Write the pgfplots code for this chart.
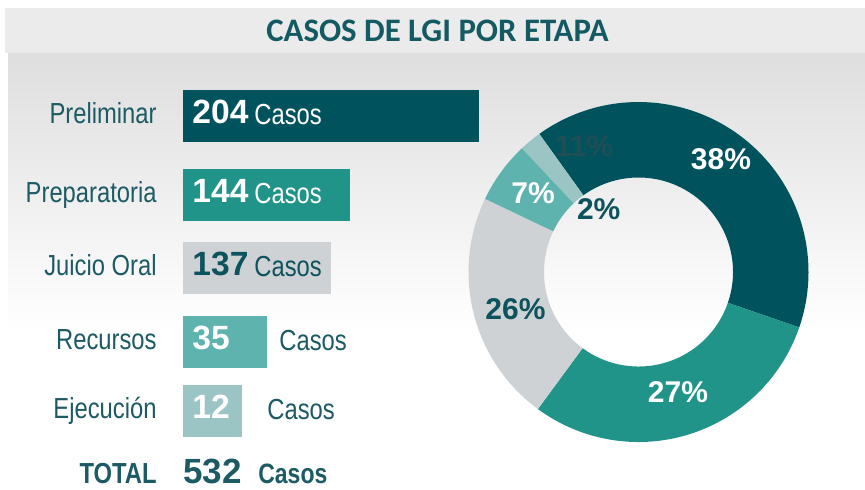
\documentclass[border=0pt]{standalone}
\usepackage{fontspec}
\setmainfont{Liberation Sans}
\newfontfamily\estrecha[FakeStretch=0.82]{Liberation Sans}
\newfontfamily\titulo{Carlito}
\usepackage{pgfplots}
\pgfplotsset{compat=1.18}

\definecolor{cPre}{HTML}{00535D}
\definecolor{cPrep}{HTML}{21948A}
\definecolor{cJui}{HTML}{CED2D5}
\definecolor{cRec}{HTML}{5EB3AE}
\definecolor{cEje}{HTML}{9BC5C4}
\definecolor{oscuro}{HTML}{0D535D}
\definecolor{etiq}{HTML}{1C5A64}
\definecolor{tituloc}{HTML}{145A63}
\definecolor{banda}{HTML}{EBEBEB}
\definecolor{fondo}{HTML}{DEDEDE}
\definecolor{fantasma}{HTML}{1F4E56}

% sector del anillo: porcentaje acumulado inicial, final, color
% (empieza en 125.7 grados y avanza en sentido horario)
\newcommand{\anillo}[3]{%
  \addplot[fill=#3, draw=none, domain=0:201, samples=202, variable=\t]
  ({ifthenelse(\t<100.5, 170*cos(125.7-3.6*(#1+(#2-#1)*\t/100)), 94.5*cos(125.7-3.6*(#2+(#1-#2)*(\t-101)/100)))},
   {ifthenelse(\t<100.5, 170*sin(125.7-3.6*(#1+(#2-#1)*\t/100)), 94.5*sin(125.7-3.6*(#2+(#1-#2)*(\t-101)/100)))});
}

\begin{document}
\begin{tikzpicture}
\useasboundingbox (0,0) rectangle (432.5pt,-244.5pt);
\fill[white] (0,0) rectangle (432.5pt,-244.5pt);
\shade[top color=fondo, bottom color=white] (4pt,-26.5pt) rectangle (432.5pt,-165pt);
\fill[banda] (2.5pt,-4pt) rectangle (432.5pt,-26.5pt);
\node[font=\titulo\bfseries\fontsize{16.4pt}{16.4pt}\selectfont, text=tituloc, inner sep=0pt]
  at (218.75pt,-15.5pt) {CASOS DE LGI POR ETAPA};

% barras por etapa
\begin{axis}[
  at={(91.5pt,-40pt)}, anchor=north west,
  x=0.5pt, y=0.5pt, y dir=reverse,
  xmin=0, xmax=300, ymin=80, ymax=489,
  axis line style={draw=none}, major tick length=0pt,
  xtick=\empty,
  ytick={116.5,195.5,268.5,342.5,411.5,476.5},
  yticklabels={Preliminar,Preparatoria,Juicio Oral,Recursos,Ejecución,\bfseries TOTAL},
  yticklabel style={font=\estrecha\fontsize{14.5pt}{14.5pt}\selectfont, text=etiq,
    anchor=east, inner sep=0pt, text height=0.72em, text depth=0pt, xshift=-13pt},
  clip=false,
]
\addplot[xbar, bar shift=0pt, bar width=25.85pt, fill=cPre, draw=none] coordinates {(296,115.8)};
\addplot[xbar, bar shift=0pt, bar width=25.85pt, fill=cPrep, draw=none] coordinates {(167,194.8)};
\addplot[xbar, bar shift=0pt, bar width=25.85pt, fill=cJui, draw=none] coordinates {(148,267.8)};
\addplot[xbar, bar shift=0pt, bar width=25.85pt, fill=cRec, draw=none] coordinates {(84,341.8)};
\addplot[xbar, bar shift=0pt, bar width=25.85pt, fill=cEje, draw=none] coordinates {(59,410.8)};
% cantidades
\addplot[draw=none, nodes near coords, point meta=explicit symbolic,
  every node near coord/.append style={anchor=west, inner sep=0pt, text height=0.72em, text depth=0pt,
    font=\bfseries\fontsize{16.8pt}{16.8pt}\selectfont, text=white}]
  coordinates {(9,116.3)[204] (9,195.3)[144] (9,342.3)[35] (9,411.3)[12]};
\addplot[draw=none, nodes near coords, point meta=explicit symbolic,
  every node near coord/.append style={anchor=west, inner sep=0pt, text height=0.72em, text depth=0pt,
    font=\bfseries\fontsize{16.8pt}{16.8pt}\selectfont, text=oscuro}]
  coordinates {(9,268.3)[137]};
\addplot[draw=none, nodes near coords={Casos},
  every node near coord/.append style={anchor=west, inner sep=0pt, text height=0.72em, text depth=0pt,
    font=\estrecha\fontsize{14.5pt}{14.5pt}\selectfont, text=white}]
  coordinates {(71,116.8) (71,195.8)};
\addplot[draw=none, nodes near coords={Casos},
  every node near coord/.append style={anchor=west, inner sep=0pt, text height=0.72em, text depth=0pt,
    font=\estrecha\fontsize{14.5pt}{14.5pt}\selectfont, text=oscuro}]
  coordinates {(71,268.8)};
\addplot[draw=none, nodes near coords={Casos},
  every node near coord/.append style={anchor=west, inner sep=0pt, text height=0.72em, text depth=0pt,
    font=\estrecha\fontsize{14.5pt}{14.5pt}\selectfont, text=etiq}]
  coordinates {(96,342.8) (84,411.8)};
% total
\addplot[draw=none, nodes near coords, point meta=explicit symbolic,
  every node near coord/.append style={anchor=west, inner sep=0pt, text height=0.72em, text depth=0pt,
    font=\bfseries\fontsize{17.5pt}{17.5pt}\selectfont, text=etiq}]
  coordinates {(0,476)[532]};
\addplot[draw=none, nodes near coords={Casos},
  every node near coord/.append style={anchor=west, inner sep=0pt, text height=0.72em, text depth=0pt,
    font=\estrecha\bfseries\fontsize{14pt}{14pt}\selectfont, text=etiq}]
  coordinates {(75,476.5)};
\end{axis}

% anillo
\begin{axis}[
  at={(319.25pt,-136pt)}, anchor=center,
  x=0.5pt, y=0.5pt,
  xmin=-180, xmax=180, ymin=-180, ymax=180,
  hide axis, clip=false,
]
\anillo{0}{40.2}{cPre}
\anillo{40.2}{70.0}{cPrep}
\anillo{70.0}{92.0}{cJui}
\anillo{92.0}{97.9}{cRec}
\anillo{97.9}{100}{cEje}
\addplot[draw=none, nodes near coords, point meta=explicit symbolic,
  every node near coord/.append style={anchor=center, inner sep=0pt, text height=0.72em, text depth=0pt,
    font=\bfseries\fontsize{15pt}{15pt}\selectfont, text=white}]
  coordinates {(82.5,109.5)[38\%] (39.5,-123)[27\%] (-105.5,76)[7\%]};
\addplot[draw=none, nodes near coords, point meta=explicit symbolic,
  every node near coord/.append style={anchor=center, inner sep=0pt, text height=0.72em, text depth=0pt,
    font=\bfseries\fontsize{15pt}{15pt}\selectfont, text=oscuro}]
  coordinates {(-123,-40.5)[26\%] (-39.8,60)[2\%]};
\addplot[draw=none, nodes near coords, point meta=explicit symbolic,
  every node near coord/.append style={anchor=center, inner sep=0pt, text height=0.72em, text depth=0pt,
    font=\bfseries\fontsize{15pt}{15pt}\selectfont, text=fantasma}]
  coordinates {(-54.5,122.5)[11\%]};
\end{axis}
\end{tikzpicture}
\end{document}
